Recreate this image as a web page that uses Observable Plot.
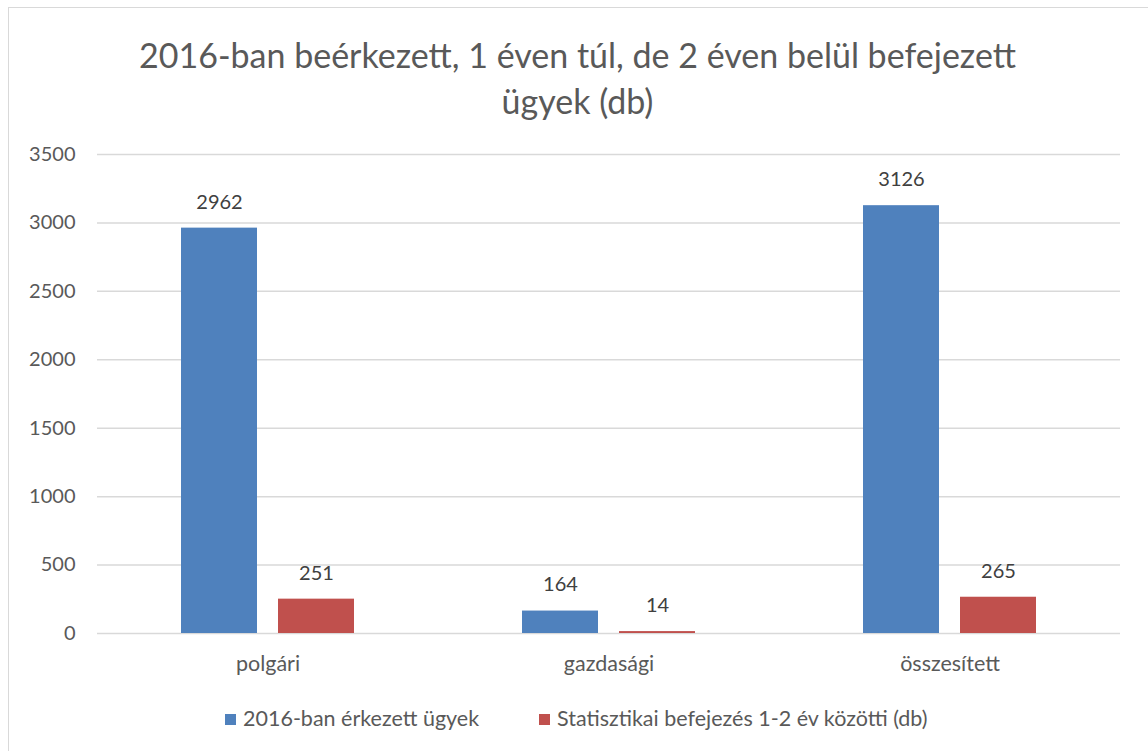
<!DOCTYPE html>
<html>
<head>
<meta charset="utf-8">
<script src="https://cdn.jsdelivr.net/npm/d3@7"></script>
<script src="https://cdn.jsdelivr.net/npm/@observablehq/plot@0.6"></script>
<style>
  html, body { margin: 0; padding: 0; background: #fff; }
  body { width: 1148px; height: 751px; position: relative; overflow: hidden; font-family: Lato, "Open Sans", sans-serif; color: #595959; }
  #frame { position: absolute; left: 8px; top: 7px; width: 1160px; height: 760px; border: 1px solid #d9d9d9; box-sizing: border-box; }
  #title { position: absolute; left: 0; top: 32px; width: 1155px; text-align: center; font-size: 34px; line-height: 46px; color: #595959; }
  #chart { position: absolute; left: 0; top: 130px; }
  #legend { position: absolute; top: 704px; left: 0; width: 1148px; font-size: 21.5px; color: #595959; }
  .item { position: absolute; top: 0; white-space: nowrap; line-height: 28px; }
  .sw { display: inline-block; width: 11px; height: 11px; margin-right: 7px; vertical-align: 1px; }
</style>
</head>
<body>
<div id="frame"></div>
<div id="title">2016-ban beérkezett, 1 éven túl, de 2 éven belül befejezett<br>ügyek (db)</div>
<div id="chart"></div>
<div id="legend"></div>
<script>
const categories = ["polgári", "gazdasági", "összesített"];
const series = ["2016-ban érkezett ügyek", "Statisztikai befejezés 1-2 év közötti (db)"];
const arrived = [2962, 164, 3126];
const finished = [251, 14, 265];
const yTicks = [0, 500, 1000, 1500, 2000, 2500, 3000, 3500];
const colors = ["#4f81bd", "#c0504d"];

const data = [];
categories.forEach((c, i) => {
  data.push({category: c, series: series[0], value: arrived[i]});
  data.push({category: c, series: series[1], value: finished[i]});
});

const chart = Plot.plot({
  width: 1148,
  height: 553,
  marginTop: 24,
  marginBottom: 50,
  marginLeft: 96,
  marginRight: 28,
  style: {fontFamily: "Lato, 'Open Sans', sans-serif", fontSize: "20px", color: "#595959", background: "transparent"},
  fx: {domain: categories, padding: 0, label: null, axis: null},
  x: {domain: series, axis: null, paddingInner: 0.2165, paddingOuter: 0.856},
  y: {domain: [0, 3500], axis: null},
  color: {domain: series, range: colors},
  marks: [
    Plot.ruleY(yTicks, {stroke: "#d9d9d9", strokeWidth: 1.5}),
    Plot.axisY({ticks: yTicks, tickFormat: d => String(d), tickSize: 0, tickPadding: 22, fontSize: 20, label: null, anchor: "left", facetAnchor: "left"}),
    Plot.axisFx({domain: categories, anchor: "bottom", tickSize: 0, tickPadding: 22, fontSize: 21.5, label: null}),
    Plot.barY(data, {fx: "category", x: "series", y: "value", fill: "series"}),
    Plot.text(data, {fx: "category", x: "series", y: "value", text: d => String(d.value), dy: -26, fontSize: 20, fill: "#404040"})
  ]
});
document.getElementById("chart").appendChild(chart);

const legend = document.getElementById("legend");
const lx = [225, 539];
series.forEach((s, i) => {
  const el = document.createElement("div");
  el.className = "item";
  el.style.left = lx[i] + "px";
  el.innerHTML = `<span class="sw" style="background:${colors[i]}"></span>${s}`;
  legend.appendChild(el);
});
</script>
</body>
</html>
